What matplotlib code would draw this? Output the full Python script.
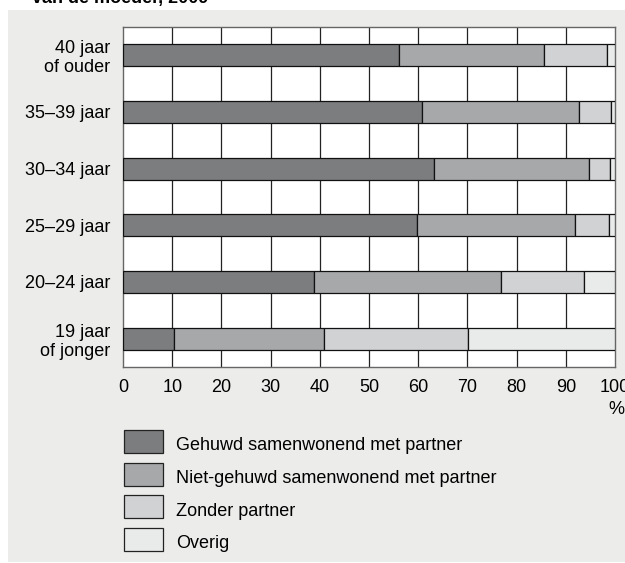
import matplotlib.pyplot as plt
from matplotlib.patches import Rectangle

plt.rcParams["font.family"] = ["Liberation Sans", "DejaVu Sans"]

# =========================
# Data (bottom to top)
# =========================

age_groups = [
    "19 jaar\nof jonger",
    "20\u201324 jaar",
    "25\u201329 jaar",
    "30\u201334 jaar",
    "35\u201339 jaar",
    "40 jaar\nof ouder",
]

gehuwd = [10.3, 38.8, 59.8, 63.3, 60.8, 56.0]
niet_gehuwd = [30.5, 38.1, 32.0, 31.4, 31.9, 29.6]
zonder_partner = [29.4, 16.7, 6.9, 4.3, 6.4, 12.8]
overig = [29.8, 6.4, 1.3, 1.0, 0.9, 1.6]

series_labels = [
    "Gehuwd samenwonend met partner",
    "Niet-gehuwd samenwonend met partner",
    "Zonder partner",
    "Overig",
]
series_colors = ["#7c7d7f", "#a7a8aa", "#d1d2d4", "#e9eaea"]

x_ticks = [0, 10, 20, 30, 40, 50, 60, 70, 80, 90, 100]

# =========================
# Figure
# =========================

W, H = 625, 563
fig = plt.figure(figsize=(W / 100, H / 100), dpi=100)
fig.patch.set_facecolor("white")

# gray panel
fig.add_artist(Rectangle(
    (8 / W, 1 - 562 / H), (W - 8) / W, (562 - 10) / H,
    transform=fig.transFigure, facecolor="#ecedeb",
    edgecolor="none", zorder=0
))

# cut-off title
fig.text(
    32 / W, 1 - 3 / H, "van de moeder, 2009",
    fontsize=13, fontweight="bold", va="baseline", ha="left"
)

ax = fig.add_axes([123 / W, 1 - 367 / H, (615 - 123) / W, (367 - 27) / H])
ax.set_facecolor("white")

# =========================
# Bars
# =========================

positions = list(range(len(age_groups)))
left = [0] * len(age_groups)

for values, color in zip(
    [gehuwd, niet_gehuwd, zonder_partner, overig], series_colors
):
    ax.barh(
        positions, values, left=left, height=0.385,
        color=color, edgecolor="#111111", linewidth=0.9, zorder=3
    )
    left = [a + b for a, b in zip(left, values)]

# grid
for x in x_ticks[1:-1]:
    ax.axvline(x, color="#222222", linewidth=0.9, zorder=1)

ax.set_xlim(0, 100)
ax.set_ylim(-0.5, 5.5)

ax.set_xticks(x_ticks)
ax.set_xticklabels([str(t) for t in x_ticks], fontsize=13)
ax.set_yticks(positions)
ax.set_yticklabels(age_groups, fontsize=13, linespacing=1.15)
ax.tick_params(length=0, pad=9)
ax.tick_params(axis="y", pad=9)

for spine in ax.spines.values():
    spine.set_color("#666666")
    spine.set_linewidth(1.0)

fig.text(616 / W, 1 - 410 / H, "%", fontsize=13, ha="center", va="center")

# =========================
# Legend
# =========================

for i, (label, color) in enumerate(zip(series_labels, series_colors)):
    top = 430 + i * 32.5
    fig.add_artist(Rectangle(
        (124 / W, 1 - (top + 23) / H), 39 / W, 23 / H,
        transform=fig.transFigure, facecolor=color,
        edgecolor="#222222", linewidth=0.9
    ))
    fig.text(
        176 / W, 1 - (top + 16) / H, label,
        fontsize=13, ha="left", va="center"
    )

plt.savefig("out.png", dpi=100)
plt.close()
